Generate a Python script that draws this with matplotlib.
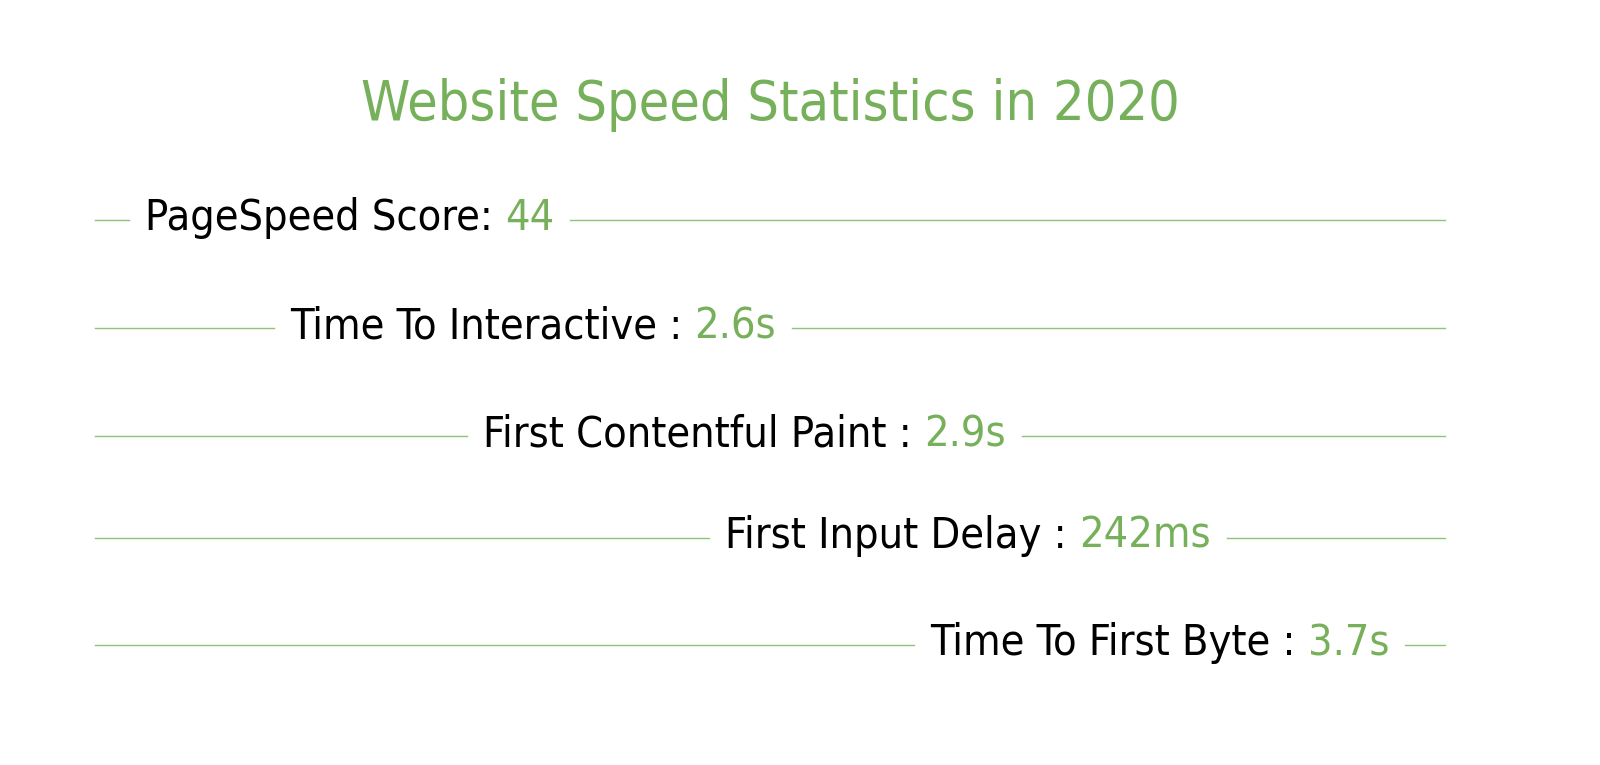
import matplotlib
matplotlib.use('Agg')
import matplotlib.pyplot as plt
from matplotlib import font_manager

# data
labels = ['PageSpeed Score:', 'Time To Interactive :', 'First Contentful Paint :',
          'First Input Delay :', 'Time To First Byte :']
values = ['44', '2.6s', '2.9s', '242ms', '3.7s']
title = 'Website Speed Statistics in 2020'

GREEN = '#76b05a'
LINE = '#8cc47a'

names = {f.name for f in font_manager.fontManager.ttflist}
fam = 'Liberation Sans Narrow' if 'Liberation Sans Narrow' in names else 'DejaVu Sans'
stretch = 'normal' if fam == 'Liberation Sans Narrow' else 'condensed'

fig = plt.figure(figsize=(16, 7.65), dpi=100)
ax = fig.add_axes([0, 0, 1, 1])
ax.set_xlim(0, 1600)
ax.set_ylim(765, 0)
ax.axis('off')

ax.text(770, 105, title, ha='center', va='center', fontsize=40, color=GREEN,
        family=fam, fontstretch=stretch, fontweight='light')

rows_y = [218, 326, 434, 536, 643]
starts = [145, 290, 483, 725, 930]
xl, xr, gap = 95, 1445, 16

fig.canvas.draw()
r = fig.canvas.get_renderer()
inv = ax.transData.inverted()
for lab, val, y, x0 in zip(labels, values, rows_y, starts):
    t1 = ax.text(x0, y, lab + ' ', va='center', ha='left', fontsize=31, color='black',
                 family=fam, fontstretch=stretch)
    bb = t1.get_window_extent(r)
    x1 = inv.transform((bb.x1, 0))[0]
    t2 = ax.text(x1, y, val, va='center', ha='left', fontsize=31, color=GREEN,
                 family=fam, fontstretch=stretch)
    bb2 = t2.get_window_extent(r)
    x2 = inv.transform((bb2.x1, 0))[0]
    ax.plot([xl, x0 - gap], [y + 2, y + 2], color=LINE, lw=1)
    ax.plot([min(x2 + gap, xr - 30), xr], [y + 2, y + 2], color=LINE, lw=1)

fig.savefig('out.png', dpi=100, facecolor='white')
